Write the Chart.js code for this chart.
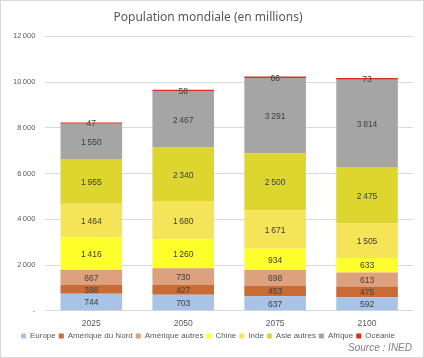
<!DOCTYPE html>
<html>
<head>
<meta charset="utf-8">
<script src="https://cdn.jsdelivr.net/npm/chart.js@4/dist/chart.umd.min.js"></script>
<style>
  body { margin: 0; background: #fff; }
  #wrap { position: relative; width: 422px; height: 356px; border: 1px solid #d9d9d9; }
  #src { position: absolute; right: 11px; bottom: 4px; font: italic 10px "Liberation Sans", Arial, sans-serif; color: #7f7f7f; }
</style>
</head>
<body>
<div id="wrap">
  <canvas id="chart" width="422" height="356"></canvas>
  <div id="src">Source : INED</div>
</div>
<script>
// années
const years = ["2025", "2050", "2075", "2100"];
// population par région (millions)
const europe = [744, 703, 637, 592];
const ameriqueNord = [388, 427, 453, 475];
const ameriqueAutres = [667, 730, 698, 613];
const chine = [1416, 1260, 934, 633];
const inde = [1464, 1680, 1671, 1505];
const asieAutres = [1955, 2340, 2500, 2475];
const afrique = [1550, 2467, 3291, 3814];
const oceanie = [47, 58, 66, 73];
const yTicks = [0, 2000, 4000, 6000, 8000, 10000, 12000];

const fmt = v => v === 0 ? "-" : String(v).replace(/\B(?=(\d{3})+(?!\d))/g, "\u202f");

// étiquettes au centre de chaque segment
const labelsPlugin = {
  id: "segLabels",
  afterDatasetsDraw(chart) {
    const ctx = chart.ctx;
    ctx.save();
    ctx.font = "8.5px 'Liberation Sans', Arial, sans-serif";
    ctx.fillStyle = "#404040";
    ctx.textAlign = "center";
    ctx.textBaseline = "middle";
    chart.data.datasets.forEach((ds, i) => {
      chart.getDatasetMeta(i).data.forEach((bar, j) => {
        const p = bar.getProps(["x", "y", "base"], true);
        ctx.fillText(fmt(ds.data[j]), p.x, (p.y + p.base) / 2 + 1);
      });
    });
    ctx.restore();
  }
};

const mk = (label, data, color) => ({ label, data, backgroundColor: color, borderWidth: 0, barPercentage: 0.67, categoryPercentage: 1 });

new Chart(document.getElementById("chart"), {
  type: "bar",
  data: {
    labels: years,
    datasets: [
      mk("Europe", europe, "#a8c3e6"),
      mk("Amérique du Nord", ameriqueNord, "#c86b34"),
      mk("Amérique autres", ameriqueAutres, "#dda27d"),
      mk("Chine", chine, "#ffff2b"),
      mk("Inde", inde, "#f5e457"),
      mk("Asie autres", asieAutres, "#dcd62e"),
      mk("Afrique", afrique, "#a5a5a5"),
      mk("Océanie", oceanie, "#d8301f")
    ]
  },
  options: {
    responsive: false,
    animation: false,
    layout: { padding: { left: 2, right: 10, top: 4, bottom: 7 } },
    plugins: {
      title: {
        display: true,
        text: "Population mondiale (en millions)",
        color: "#595959",
        font: { family: "'Noto Sans', sans-serif", size: 12, weight: "normal" },
        padding: { top: 5, bottom: 12 }
      },
      legend: {
        position: "bottom",
        labels: {
          boxWidth: 5, boxHeight: 5, padding: 3,
          color: "#595959",
          font: { family: "'Liberation Sans', Arial, sans-serif", size: 8 }
        }
      },
      tooltip: { enabled: false }
    },
    scales: {
      x: {
        stacked: true,
        grid: { display: false },
        border: { display: false },
        ticks: { color: "#595959", font: { family: "'Liberation Sans', Arial, sans-serif", size: 8.5 }, padding: 0 }
      },
      y: {
        stacked: true,
        min: 0, max: 12000,
        afterBuildTicks: axis => { axis.ticks = yTicks.map(v => ({ value: v })); },
        grid: { color: "#d9d9d9", drawTicks: false },
        border: { display: false },
        ticks: { color: "#595959", font: { family: "'Liberation Sans', Arial, sans-serif", size: 7.5 }, padding: 10, callback: v => fmt(v) }
      }
    }
  },
  plugins: [labelsPlugin]
});
</script>
</body>
</html>
